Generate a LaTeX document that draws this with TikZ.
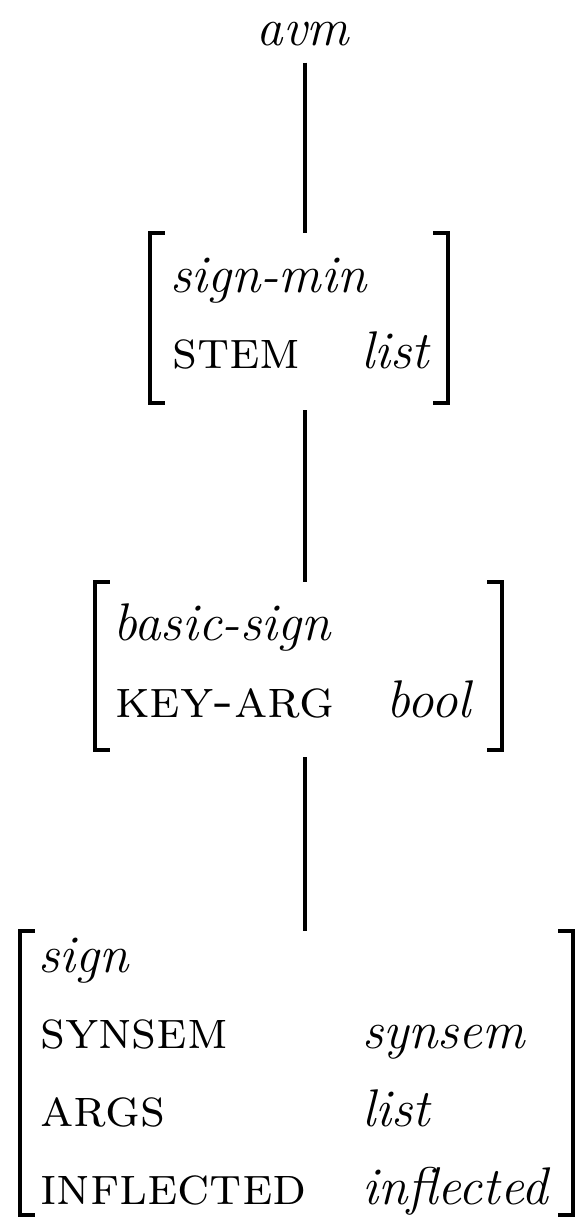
\documentclass[tikz,border=0pt]{standalone}
\begin{document}
\begin{tikzpicture}[x=1pt,y=-1pt,
  txt/.style={anchor=base west,inner sep=0pt,font=\fontsize{53}{63}\selectfont},
  typ/.style={txt,font=\fontsize{53}{63}\selectfont\itshape},
  feat/.style={txt,font=\fontsize{54.5}{64}\selectfont\scshape},
  box/.style={draw=none,inner sep=0pt,minimum width=#1},
  brk/.style={line width=3.6pt},
  edge/.style={line width=3.2pt}]
\useasboundingbox (0,0) rectangle (577,1218);
% root
\node[typ,anchor=base] (avm) at (303,45) {avm};
% box 1
\node[box=298,minimum height=170] (b1) at (299,318) {};
\node[typ] (t1) at (170,292) {sign-min};
\node[feat] (f1a) at (172,368) {stem};
\node[typ] (v1a) at (361,368) {list};
% box 2
\node[box=407,minimum height=168] (b2) at (298.5,666) {};
\node[typ] (t2) at (113,640) {basic-sign};
\node[feat] (f2a) at (115,717) {key-arg};
\node[typ] (v2a) at (386,717) {bool};
% box 3
\node[box=553,minimum height=284] (b3) at (296.5,1073) {};
\node[typ] (t3) at (38,972) {sign};
\node[feat] (f3a) at (40,1048) {synsem};
\node[typ] (v3a) at (362,1048) {synsem};
\node[feat] (f3b) at (40,1126) {args};
\node[typ] (v3b) at (362,1126) {list};
\node[feat] (f3c) at (40,1204) {inflected};
\node[typ] (v3c) at (362,1204) {inflected};
% brackets
\foreach \b in {b1,b2,b3}{
  \draw[brk] ([xshift=15]\b.north west) -- (\b.north west) -- (\b.south west) -- ([xshift=15]\b.south west);
  \draw[brk] ([xshift=-15]\b.north east) -- (\b.north east) -- (\b.south east) -- ([xshift=-15]\b.south east);
}
% connectors
\coordinate (c0) at ([xshift=2,yshift=-17]avm.south);
\draw[edge] (c0) -- (c0 |- b1.north);
\draw[edge] ([yshift=-7]b1.south -| c0) -- (c0 |- b2.north);
\draw[edge] ([yshift=-7]b2.south -| c0) -- (c0 |- b3.north);
\end{tikzpicture}
\end{document}
